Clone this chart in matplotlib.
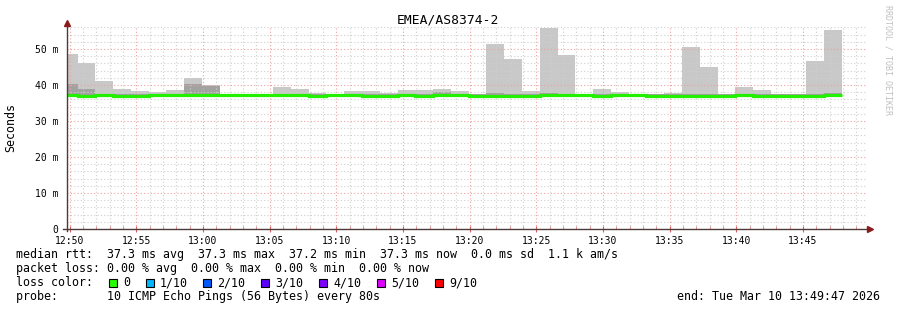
import matplotlib
matplotlib.use("Agg")
import matplotlib.pyplot as plt
from matplotlib.patches import Rectangle
from matplotlib.ticker import MultipleLocator
import numpy as np

plt.rcParams['font.family'] = ['DejaVu Sans Mono']

# --- values (ms) ---
first_bar = "12:49:16"     # start of the first (cut off) 80s step
step_s = 80
graph_end = "13:49:47"

rtt_max = [48.6, 46.2, 41.1, 38.9, 38.3, 38.0, 38.6, 41.9, 40.0, 37.5, 37.5,
           37.5, 39.4, 38.8, 37.9, 37.5, 38.3, 38.3, 37.9, 38.6, 38.6, 38.9,
           38.3, 37.6, 51.4, 47.2, 38.3, 55.8, 48.3, 37.5, 38.9, 38.0, 37.5,
           37.6, 37.8, 50.6, 45.0, 37.5, 39.4, 38.6, 37.5, 37.5, 46.7, 55.3]
rtt_upper = [40.3, 38.9, 37.6, 37.6, 37.6, 37.6, 37.6, 40.2, 39.8, 37.5, 37.5,
             37.5, 37.6, 37.6, 37.6, 37.5, 37.6, 37.6, 37.6, 37.6, 37.6, 38.0,
             37.6, 37.5, 37.8, 37.6, 37.6, 37.9, 37.6, 37.5, 37.6, 37.6, 37.5,
             37.5, 37.6, 37.6, 37.6, 37.5, 37.6, 37.6, 37.5, 37.5, 37.6, 37.9]
rtt_median = [37.3, 37.05, 37.3, 37.05, 37.05, 37.3, 37.3, 37.3, 37.3, 37.3, 37.3,
              37.3, 37.3, 37.3, 37.05, 37.3, 37.3, 37.05, 37.05, 37.3, 37.05, 37.3,
              37.3, 37.05, 37.05, 37.05, 37.05, 37.3, 37.3, 37.3, 37.05, 37.3, 37.3,
              37.05, 37.05, 37.05, 37.05, 37.05, 37.3, 37.05, 37.05, 37.05, 37.05, 37.3]

loss_labels = ["0", "1/10", "2/10", "3/10", "4/10", "5/10", "9/10"]
loss_colors = ["#26ff00", "#00b8ff", "#0059ff", "#5e00ff", "#7e00ff", "#dd00ff", "#ff0000"]


def to_min(hms):
    h, m, s = (int(v) for v in hms.split(":"))
    return (h - 12) * 60 + m + s / 60.0


W, H = 897, 310


def fx(x):
    return x / W


def fy(y):
    return 1 - y / H


fig = plt.figure(figsize=(W / 100, H / 100), dpi=100)
fig.patch.set_facecolor("white")

# plot area: 800 px wide, 0..56 ms
ax = fig.add_axes([fx(66.7), fy(229), 800 / W, (229 - 27.4) / H])
for s in ax.spines.values():
    s.set_visible(False)

edges = to_min(first_bar) + np.arange(len(rtt_max) + 1) * step_s / 60.0
ax.stairs(rtt_max, edges, baseline=rtt_median, fill=True, color="#c8c8c8", lw=0, zorder=1)
ax.stairs(rtt_upper, edges, baseline=rtt_median, fill=True, color="#a2a2a2", lw=0, zorder=1.1)
ax.stairs(rtt_median, edges, baseline=None, color="#22f000", lw=2.3, zorder=3)

t_end = to_min(graph_end)
ax.set_xlim(t_end - 60, t_end)
ax.set_ylim(0, 56)

xt = np.arange(50, 110, 5)
ax.set_xticks(xt)
ax.set_xticklabels([f"{12 + m // 60}:{m % 60:02d}" for m in xt], fontsize=7)
ax.xaxis.set_minor_locator(MultipleLocator(1))
yt = np.arange(0, 51, 10)
ax.set_yticks(yt)
ax.set_yticklabels(["0" if v == 0 else f"{v} m" for v in yt], fontsize=7)
ax.yaxis.set_minor_locator(MultipleLocator(2))

ax.tick_params(axis="x", which="major", direction="inout", length=4, color="#e06060", pad=3)
ax.tick_params(axis="x", which="minor", direction="in", length=2, color="#e08080")
ax.tick_params(axis="y", which="both", length=0, pad=6)

ax.set_axisbelow(False)
ax.grid(which="minor", color="#cfcfcf", linestyle=(0, (1, 2)), lw=0.8)
ax.grid(which="major", color="#f0a0a0", linestyle=(0, (1, 2)), lw=0.8)

# axis lines with arrows
fig.add_artist(plt.Line2D([fx(66.7), fx(66.7)], [fy(231), fy(24)], color="#4d3a3a", lw=1))
fig.add_artist(plt.Line2D([fx(63), fx(869)], [fy(228.5), fy(228.5)], color="#4d3a3a", lw=1))
fig.add_artist(plt.Line2D([fx(66.7)], [fy(23)], marker="^", ms=5, color="#8b1a1a", lw=0))
fig.add_artist(plt.Line2D([fx(870)], [fy(228.5)], marker=">", ms=5, color="#8b1a1a", lw=0))

fig.text(fx(448), fy(20), "EMEA/AS8374-2", fontsize=9.4, ha="center", va="center")
fig.text(fx(11), fy(127), "Seconds", fontsize=8.4, rotation=90, ha="center", va="center")
fig.text(fx(888), fy(60), "RRDTOOL / TOBI OETIKER", fontsize=6, rotation=270,
         ha="center", va="center", color="#c0c0c0")

fs = 8.4
fig.text(fx(16), fy(258), "median rtt:  37.3 ms avg  37.3 ms max  37.2 ms min  37.3 ms now  0.0 ms sd  1.1 k am/s",
         fontsize=fs, va="baseline")
fig.text(fx(16), fy(272), "packet loss: 0.00 % avg  0.00 % max  0.00 % min  0.00 % now",
         fontsize=fs, va="baseline")
fig.text(fx(16), fy(286), "loss color:", fontsize=fs, va="baseline")
box_x = [109, 146, 203, 261, 319, 377, 435]
for bx, lab, col in zip(box_x, loss_labels, loss_colors):
    fig.add_artist(Rectangle((fx(bx), fy(286.5)), 8 / W, 8 / H, facecolor=col,
                             edgecolor="black", lw=0.8))
    fig.text(fx(bx + 14), fy(286), lab, fontsize=fs, va="baseline")
fig.text(fx(16), fy(300), "probe:       10 ICMP Echo Pings (56 Bytes) every 80s", fontsize=fs, va="baseline")
fig.text(fx(880), fy(300), "end: Tue Mar 10 13:49:47 2026", fontsize=fs, va="baseline", ha="right")

fig.savefig("out.png", dpi=100, facecolor="white")
